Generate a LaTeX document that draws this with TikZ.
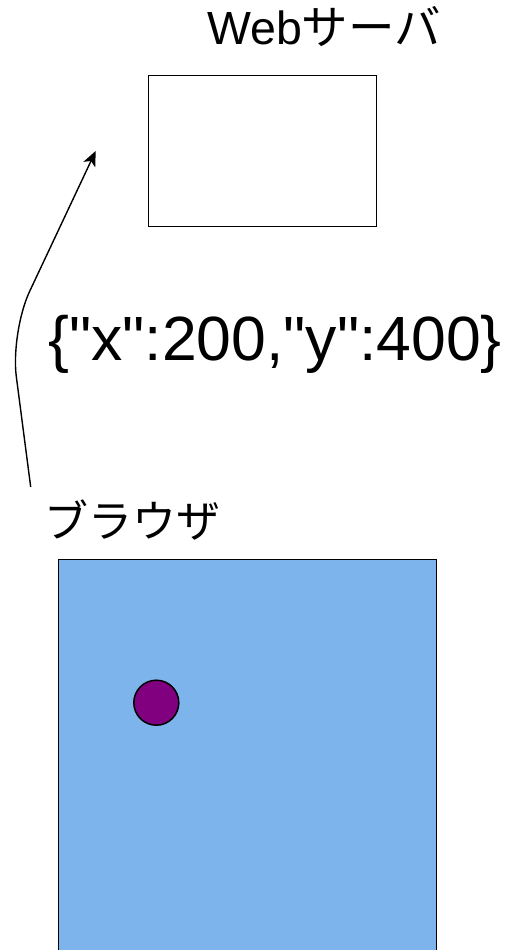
\documentclass[tikz,border=0pt]{standalone}
\usepackage{fontspec}
\setmainfont{Liberation Sans}
\newfontfamily\plainsans{Liberation Sans}
\newfontfamily\jpfont{Noto Sans CJK JP}
\usetikzlibrary{arrows.meta}
\definecolor{browserblue}{RGB}{126,180,236}
\definecolor{dotpurple}{RGB}{128,0,128}
\begin{document}
\begin{tikzpicture}[x=1pt,y=-1pt,
  box/.style={draw=black,line width=1pt,inner sep=0pt,anchor=north west},
  lbl/.style={inner sep=0pt,anchor=base}]
\useasboundingbox (0,0) rectangle (510,950);
\begin{scope}
\clip (0,0) rectangle (510,950);
\node[box,fill=browserblue,minimum width=378pt,minimum height=410pt] (browser) at (58,559) {};
\end{scope}
\node[box,minimum width=228pt,minimum height=151pt] (server) at (148,75) {};
\node[lbl,font=\plainsans\fontsize{46.5}{55}\selectfont] (serverlabel) at (324,45) {Web{\jpfont サーバ}};
\node[lbl,font=\plainsans\fontsize{62.5}{74}\selectfont] (json) at (275,360) {\{"x":200,"y":400\}};
\node[lbl,font=\jpfont\fontsize{44}{54}\selectfont] (browserlabel) at (132,537) {ブラウザ};
\node[circle,draw=black,line width=1.5pt,fill=dotpurple,minimum size=45pt,inner sep=0pt] (dot) at (156.3,702.7) {};
\coordinate (start) at (30.7,487);
\coordinate (bend) at (10.5,332);
\coordinate (tip) at (95.7,151);
\draw[line width=1.4pt,rounded corners=45pt,-{Stealth[length=15pt,width=13pt,inset=4pt]}] (start) -- (bend) -- (tip);
\end{tikzpicture}
\end{document}
